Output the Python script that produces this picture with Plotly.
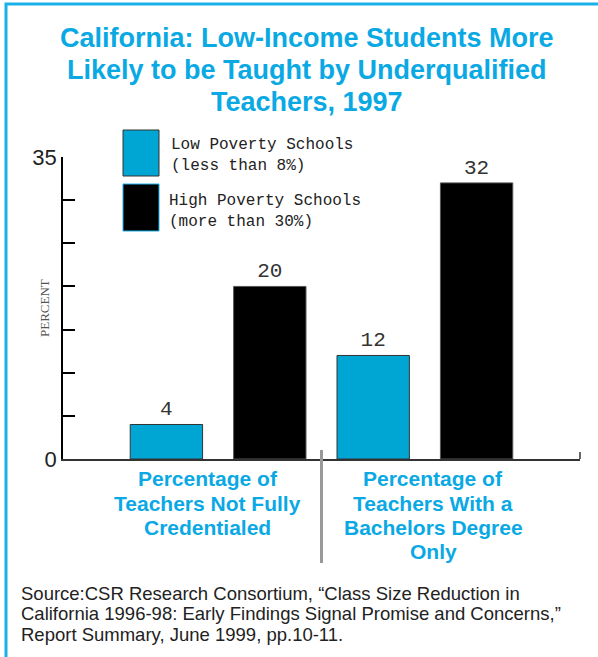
import plotly.graph_objects as go

# Chart data
categories = [
    "Percentage of<br>Teachers Not Fully<br>Credentialed",
    "Percentage of<br>Teachers With a<br>Bachelors Degree<br>Only",
]
series_names = [
    "Low Poverty Schools<br>(less than 8%)",
    "High Poverty Schools<br>(more than 30%)",
]
low_poverty = [4, 12]
high_poverty = [20, 32]
y_ticks = [0, 5, 10, 15, 20, 25, 30, 35]
y_tick_labels = ["0", "", "", "", "", "", "", "35"]

title_lines = [
    "California: Low-Income Students More",
    "Likely to be Taught by Underqualified",
    "Teachers, 1997",
]
source_lines = [
    "Source:CSR Research Consortium, \u201cClass Size Reduction in",
    "California 1996-98: Early Findings Signal Promise and Concerns,\u201d",
    "Report Summary, June 1999, pp.10-11.",
]

CYAN = "#00a6d3"
TITLE_CYAN = "#0aa9e4"
SANS = "Liberation Sans, Arial, sans-serif"
MONO = "Liberation Mono, Courier New, monospace"
SERIF = "Liberation Serif, Times New Roman, serif"

# plot area geometry in pixels (used to place free text in paper units)
PLOT_LEFT, PLOT_TOP, PLOT_W, PLOT_H = 63, 157, 517, 302


def px_x(px):
    return (px - PLOT_LEFT) / PLOT_W


def px_y(py):
    return (PLOT_TOP + PLOT_H - py) / PLOT_H


fig = go.Figure()
fig.add_trace(go.Bar(
    x=categories, y=low_poverty, name=series_names[0],
    marker=dict(color=CYAN, line=dict(color="#333333", width=1)),
    text=[str(v) for v in low_poverty], textposition="outside",
    textfont=dict(family=MONO, size=21, color="#333333"),
))
fig.add_trace(go.Bar(
    x=categories, y=high_poverty, name=series_names[1],
    marker=dict(color="#000000", line=dict(color="#555555", width=1)),
    text=[str(v) for v in high_poverty], textposition="outside",
    textfont=dict(family=MONO, size=21, color="#333333"),
))

annotations = []
# Title, one line at a time for tight leading
for i, line in enumerate(title_lines):
    annotations.append(dict(
        text="<b>" + line + "</b>", xref="paper", yref="paper",
        x=px_x(307), y=px_y(38 + 32 * i), xanchor="center", yanchor="middle",
        showarrow=False, font=dict(family=SANS, size=27, color=TITLE_CYAN),
    ))
# Category labels below the axis
label_x = [-0.05, 1.04]
for cat, lx in zip(categories, label_x):
    for j, line in enumerate(cat.split("<br>")):
        annotations.append(dict(
            text="<b>" + line + "</b>", xref="x", yref="paper",
            x=lx, y=px_y(479 + 24 * j), xanchor="center", yanchor="middle",
            showarrow=False, font=dict(family=SANS, size=21, color=TITLE_CYAN),
        ))
# Legend texts
legend_pos = [(px_x(169), px_y(155)), (px_x(167), px_y(211))]
for name, (lx, ly) in zip(series_names, legend_pos):
    annotations.append(dict(
        text=name, xref="paper", yref="paper", x=lx, y=ly,
        xanchor="left", yanchor="middle", align="left", showarrow=False,
        font=dict(family=MONO, size=16, color="#222222"),
    ))
# Y axis label
annotations.append(dict(
    text="PERCENT", xref="paper", yref="paper", x=px_x(44), y=0.5,
    textangle=-90, showarrow=False, xanchor="center", yanchor="middle",
    font=dict(family=SERIF, size=13, color="#555555"),
))
# Source note
for k, line in enumerate(source_lines):
    annotations.append(dict(
        text=line, xref="paper", yref="paper", x=px_x(19), y=px_y(593 + 20.5 * k),
        xanchor="left", yanchor="middle", align="left", showarrow=False,
        font=dict(family=SANS, size=18.5, color="#222222"),
    ))

shapes = [
    # page frame
    dict(type="rect", xref="paper", yref="paper", x0=px_x(6), x1=2.0,
         y0=-2.0, y1=px_y(4), line=dict(color="#1ab0e8", width=3)),
    # group separator
    dict(type="line", xref="paper", yref="paper", x0=0.5, x1=0.5,
         y0=px_y(563), y1=px_y(450), line=dict(color="#999999", width=3)),
    # end tick of the x axis
    dict(type="line", xref="paper", yref="paper", x0=1.0, x1=1.0,
         y0=0, y1=px_y(452), line=dict(color="#333333", width=1.5)),
    # legend swatches
    dict(type="rect", xref="paper", yref="paper", x0=px_x(123), x1=px_x(159),
         y0=px_y(176), y1=px_y(130), fillcolor=CYAN,
         line=dict(color="#333333", width=1)),
    dict(type="rect", xref="paper", yref="paper", x0=px_x(123), x1=px_x(159),
         y0=px_y(231), y1=px_y(184), fillcolor="#000000",
         line=dict(color="#1ab0e8", width=1)),
]

fig.update_layout(
    width=598, height=657,
    margin=dict(l=63, r=18, t=157, b=198),
    paper_bgcolor="white", plot_bgcolor="white",
    barmode="group", bargap=0, bargroupgap=0.3,
    showlegend=False,
    annotations=annotations, shapes=shapes,
    xaxis=dict(
        range=[-0.75, 1.75], showticklabels=False, ticks="",
        showline=True, linecolor="#333333", linewidth=2,
        showgrid=False, zeroline=False, fixedrange=True,
    ),
    yaxis=dict(
        range=[0, 35], tickvals=y_ticks, ticktext=y_tick_labels,
        ticks="inside", ticklen=12, tickwidth=1.5, tickcolor="#000000",
        showline=True, linecolor="#000000", linewidth=1.5,
        showgrid=False, zeroline=False,
        tickfont=dict(family=SANS, size=22, color="#222222"),
    ),
)

fig.write_html("out.html")
